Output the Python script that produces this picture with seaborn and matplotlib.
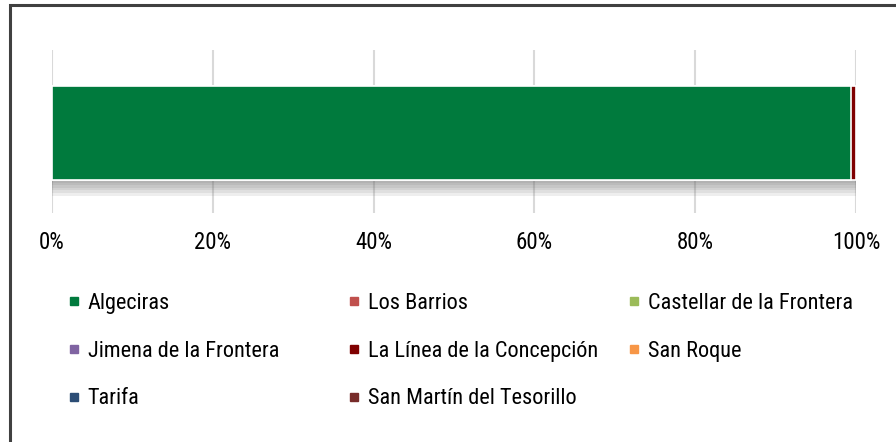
import matplotlib
matplotlib.use("Agg")
import matplotlib.pyplot as plt
from matplotlib import font_manager
import seaborn as sns
import numpy as np
from matplotlib.lines import Line2D
from matplotlib.patches import Rectangle

# ---- data ----
municipios = ["Algeciras", "Los Barrios", "Castellar de la Frontera",
              "Jimena de la Frontera", "La Línea de la Concepción", "San Roque",
              "Tarifa", "San Martín del Tesorillo"]
valores = [99.4, 0.0, 0.0, 0.0, 0.6, 0.0, 0.0, 0.0]
colores = ["#007A3D", "#C0504D", "#9BBB59", "#8064A2", "#7F0000", "#F79646",
           "#2C4D75", "#772C2A"]
fila = ["Total"]
ticks = [0, 20, 40, 60, 80, 100]
tick_labels = ["0%", "20%", "40%", "60%", "80%", "100%"]

sns.set_theme(style="white")

available = {f.name for f in font_manager.fontManager.ttflist}
narrow = [n for n in ["Liberation Sans Narrow", "Roboto Condensed",
                      "Open Sans Condensed", "Noto Sans Condensed"] if n in available]
if narrow:
    FONT = [narrow[0], "DejaVu Sans"]
    TICK_FS, LEG_FS = 16.5, 16
else:
    FONT = ["Roboto", "DejaVu Sans"]
    TICK_FS, LEG_FS = 15, 14
plt.rcParams["font.family"] = FONT

fig = plt.figure(figsize=(8.96, 4.42), dpi=100)
ax = fig.add_axes([52 / 896, 1 - 213 / 442, (856 - 52) / 896, (213 - 50) / 442])

total = sum(valores)
pct = [v / total * 100 for v in valores]
cum = np.cumsum(pct)

ax.set_axisbelow(True)
ax.grid(axis="x", color="#D9D9D9", linewidth=1.5)

# shadow below the bar
bar_h = 0.577
for k in range(6):
    off = 0.016 * (k + 1)
    ax.barh([off], [cum[-1]], height=bar_h, color="#6A6A6A", alpha=0.11,
            linewidth=0, zorder=1)

# stacked bars (drawn from the end so earlier segments overlay)
for i in range(len(municipios) - 1, -1, -1):
    if pct[i] <= 0:
        continue
    sns.barplot(x=[cum[i]], y=fila, orient="h", color=colores[i], ax=ax,
                width=bar_h, edgecolor="white", linewidth=1.2, saturation=1,
                zorder=2)

c = -0.009
ax.set_ylim(0.5 + c, -0.5 + c)
ax.set_xlim(0, 100)
ax.set_xticks(ticks)
ax.set_xticklabels(tick_labels, fontsize=TICK_FS, color="black")
ax.set_yticks([])
ax.set_ylabel("")
ax.set_xlabel("")
ax.tick_params(axis="x", length=0, pad=13)
for s in ax.spines.values():
    s.set_visible(False)

# legend: three columns
cols = [[0, 3, 6], [1, 4, 7], [2, 5]]
xs = [67 / 896, 347 / 896, 627 / 896]
for col, x0 in zip(cols, xs):
    handles = [Line2D([], [], marker="s", linestyle="none", markersize=5.8,
                      markerfacecolor=colores[i], markeredgecolor=colores[i])
               for i in col]
    labels = [municipios[i] for i in col]
    fig.legend(handles, labels, loc="upper left", bbox_to_anchor=(x0, 1 - 293 / 442),
               frameon=False, fontsize=LEG_FS, handlelength=0.6, handletextpad=0.33,
               labelspacing=1.2, borderpad=0, borderaxespad=0,
               labelcolor="black")

# outer frame
fig.patches.append(Rectangle((9.5 / 896, -0.2), 1.2, 1.2 - 4.5 / 442,
                             transform=fig.transFigure, fill=False,
                             edgecolor="#404040", linewidth=2.2))

fig.savefig("out.png", dpi=100)
